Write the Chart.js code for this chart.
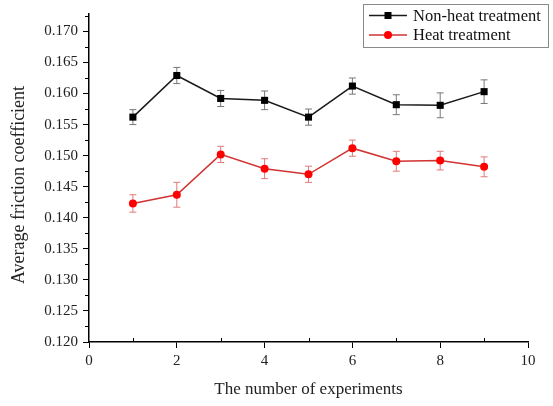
<!DOCTYPE html>
<html>
<head>
<meta charset="utf-8">
<script src="https://cdn.jsdelivr.net/npm/chart.js@4/dist/chart.umd.min.js"></script>
<style>
html,body{margin:0;padding:0;background:#fff;}
#wrap{width:553px;height:406px;}
</style>
</head>
<body>
<div id="wrap"><canvas id="c" width="553" height="406"></canvas></div>
<script>
// ---- data ----
const experiments = [1, 2, 3, 4, 5, 6, 7, 8, 9];
const nonHeat    = [0.1562, 0.1629, 0.1592, 0.1589, 0.1562, 0.1612, 0.1582, 0.1581, 0.1603];
const nonHeatErr = [0.0012, 0.0013, 0.0013, 0.0015, 0.0013, 0.0013, 0.0016, 0.0020, 0.0019];
const heat       = [0.1423, 0.1437, 0.1502, 0.1479, 0.1470, 0.1512, 0.1491, 0.1492, 0.1482];
const heatErr    = [0.0014, 0.0020, 0.0013, 0.0016, 0.0013, 0.0013, 0.0016, 0.0015, 0.0016];
const xTicks = [0, 2, 4, 6, 8, 10];
const xMinor = [1, 3, 5, 7, 9];
const yTicks = [0.120, 0.125, 0.130, 0.135, 0.140, 0.145, 0.150, 0.155, 0.160, 0.165, 0.170];
const yMinor = [0.1225, 0.1275, 0.1325, 0.1375, 0.1425, 0.1475, 0.1525, 0.1575, 0.1625, 0.1675, 0.1725];
const seriesNames = ['Non-heat treatment', 'Heat treatment'];
const xTitle = 'The number of experiments';
const yTitle = 'Average friction coefficient';

const FONT = '"Liberation Serif", "Times New Roman", serif';

const errorBars = {
  id: 'errorBars',
  beforeDatasetsDraw(chart) {
    const ctx = chart.ctx;
    const xs = chart.scales.x, ys = chart.scales.y;
    chart.data.datasets.forEach((ds) => {
      ctx.save();
      ctx.strokeStyle = ds.errColor;
      ctx.lineWidth = 1;
      ds.data.forEach((p, i) => {
        const e = ds.err[i];
        const x = xs.getPixelForValue(p.x);
        const y1 = ys.getPixelForValue(p.y + e);
        const y2 = ys.getPixelForValue(p.y - e);
        ctx.beginPath();
        ctx.moveTo(x, y1); ctx.lineTo(x, y2);
        ctx.moveTo(x - 3.5, y1); ctx.lineTo(x + 3.5, y1);
        ctx.moveTo(x - 3.5, y2); ctx.lineTo(x + 3.5, y2);
        ctx.stroke();
      });
      ctx.restore();
    });
  }
};

const minorTicks = {
  id: 'minorTicks',
  afterDraw(chart) {
    const ctx = chart.ctx;
    const xs = chart.scales.x, ys = chart.scales.y;
    const a = chart.chartArea;
    ctx.save();
    ctx.strokeStyle = '#000';
    ctx.lineWidth = 1;
    ctx.beginPath();
    yMinor.forEach(v => {
      const y = Math.round(ys.getPixelForValue(v)) + 0.5;
      ctx.moveTo(a.left - 4, y); ctx.lineTo(a.left, y);
    });
    xMinor.forEach(v => {
      const x = Math.round(xs.getPixelForValue(v)) + 0.5;
      ctx.moveTo(x, a.bottom); ctx.lineTo(x, a.bottom - 4);
    });
    ctx.stroke();
    // y-axis title, centred a little below the plot centre as in the reference
    ctx.translate(19, (a.top + a.bottom) / 2 + 7);
    ctx.rotate(-Math.PI / 2);
    ctx.fillStyle = '#222';
    ctx.font = '18px ' + FONT;
    ctx.textAlign = 'center';
    ctx.textBaseline = 'middle';
    ctx.fillText(yTitle, 0, 0);
    ctx.restore();
  }
};

const boxLegend = {
  id: 'boxLegend',
  afterDraw(chart) {
    const ctx = chart.ctx;
    ctx.save();
    ctx.strokeStyle = '#8a8a8a';
    ctx.lineWidth = 1;
    ctx.strokeRect(363.5, 4.5, 185, 43);
    const rows = [15.5, 35];
    chart.data.datasets.forEach((ds, i) => {
      const y = rows[i];
      ctx.strokeStyle = ds.borderColor;
      ctx.lineWidth = 1.5;
      ctx.beginPath(); ctx.moveTo(369, y); ctx.lineTo(407, y); ctx.stroke();
      ctx.fillStyle = ds.pointBackgroundColor;
      ctx.beginPath();
      if (ds.pointStyle === 'rect') { ctx.rect(384.5, y - 3.5, 7, 7); }
      else { ctx.arc(388, y, 4, 0, Math.PI * 2); }
      ctx.fill();
      ctx.fillStyle = '#111';
      ctx.font = '16.5px ' + FONT;
      ctx.textBaseline = 'middle';
      ctx.fillText(seriesNames[i], 413, y + 1);
    });
    ctx.restore();
  }
};

new Chart(document.getElementById('c'), {
  type: 'line',
  data: {
    datasets: [
      {
        label: seriesNames[0],
        data: experiments.map((x, i) => ({ x, y: nonHeat[i] })),
        err: nonHeatErr,
        errColor: '#777777',
        borderColor: '#1a1a1a',
        borderWidth: 1.5,
        pointStyle: 'rect',
        pointRadius: 5,
        pointBackgroundColor: '#000',
        pointBorderColor: '#000',
        pointBorderWidth: 0,
        tension: 0
      },
      {
        label: seriesNames[1],
        data: experiments.map((x, i) => ({ x, y: heat[i] })),
        err: heatErr,
        errColor: '#e07a7a',
        borderColor: '#d23232',
        borderWidth: 1.5,
        pointStyle: 'circle',
        pointRadius: 4,
        pointBackgroundColor: '#ff0000',
        pointBorderColor: '#ff0000',
        pointBorderWidth: 0,
        tension: 0
      }
    ]
  },
  options: {
    responsive: false,
    animation: false,
    events: [],
    layout: { padding: { top: 14, right: 25, left: 0, bottom: 0 } },
    plugins: { legend: { display: false }, tooltip: { enabled: false } },
    scales: {
      x: {
        type: 'linear',
        min: 0, max: 10,
        afterBuildTicks: s => { s.ticks = xTicks.map(v => ({ value: v })); },
        afterFit: s => { s.height = 64; },
        ticks: { color: '#222', font: { family: FONT, size: 15 }, padding: 4, maxRotation: 0, autoSkip: false },
        grid: { display: true, drawOnChartArea: false, drawTicks: true, tickLength: 6, color: '#000', lineWidth: 1 },
        border: { display: true, color: '#000', width: 1.5 },
        title: { display: true, text: xTitle, color: '#222', font: { family: FONT, size: 17 }, padding: { top: 0, bottom: 6 } }
      },
      y: {
        type: 'linear',
        min: 0.12, max: 0.1728,
        afterBuildTicks: s => { s.ticks = yTicks.map(v => ({ value: v })); },
        afterFit: s => { s.width = 89; },
        ticks: { color: '#222', font: { family: FONT, size: 15 }, padding: 5, autoSkip: false, callback: v => v.toFixed(3) },
        grid: { display: true, drawOnChartArea: false, drawTicks: true, tickLength: 6, color: '#000', lineWidth: 1 },
        border: { display: true, color: '#000', width: 1.5 },
        title: { display: false, text: yTitle }
      }
    }
  },
  plugins: [errorBars, minorTicks, boxLegend]
});
</script>
</body>
</html>
